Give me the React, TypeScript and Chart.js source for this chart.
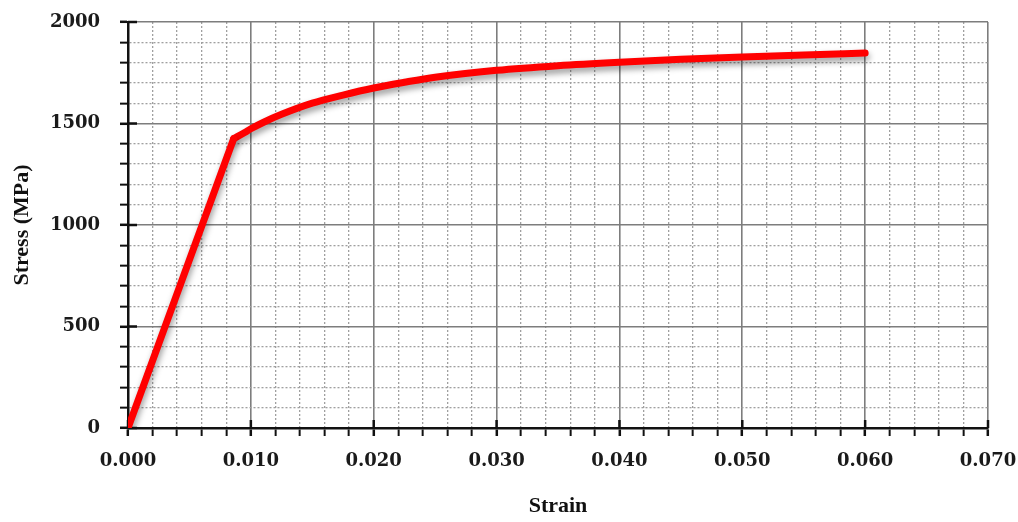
import React, { useEffect, useRef } from "react";
import { Chart, registerables } from "chart.js";

Chart.register(...registerables);

// Elastic (linear) part of the curve
const elasticStrain = [0, 0.0086];
const elasticStress = [0, 1425];

// Plastic (hardening) part of the curve
const plasticStrain = [0.0086, 0.0095, 0.010, 0.011, 0.0125, 0.015, 0.0175, 0.020, 0.0225, 0.025, 0.030, 0.035, 0.040, 0.045, 0.050, 0.055, 0.060];
const plasticStress = [1425, 1456, 1474, 1505, 1545, 1600, 1640, 1675, 1703, 1728, 1762, 1785, 1802, 1816, 1828, 1838, 1847];

// Tick labels
const xTickLabels = ["0.000", "0.010", "0.020", "0.030", "0.040", "0.050", "0.060", "0.070"];
const yTickLabels = ["0", "500", "1000", "1500", "2000"];
const xMinorStep = 0.002;
const yMinorStep = 100;

const xMajor = xTickLabels.map((s) => parseFloat(s));
const yMajor = yTickLabels.map((s) => parseFloat(s));

const majorIndex = (v: number, majors: number[]) => majors.findIndex((m) => Math.abs(m - v) < 1e-7);
const isMajor = (v: number, majors: number[]) => majorIndex(v, majors) >= 0;

const MAJOR_GRID = "#7d7d7d";
const MINOR_GRID = "#a0a0a0";
const AXIS = "#111111";

const tickFont = { family: "'DejaVu Serif', serif", weight: "bold" as const, size: 18 };
const titleFont = { family: "'Liberation Serif', serif", weight: "bold" as const, size: 22 };

const shadowPlugin = {
  id: "lineShadow",
  beforeDatasetDraw(chart: any) {
    const ctx = chart.ctx;
    ctx.save();
    ctx.shadowColor = "rgba(0,0,0,0.4)";
    ctx.shadowBlur = 6;
    ctx.shadowOffsetY = 4;
    ctx.shadowOffsetX = 1;
  },
  afterDatasetDraw(chart: any) {
    chart.ctx.restore();
  },
};

const majorTickPlugin = {
  id: "majorTickInside",
  beforeDatasetsDraw(chart: any) {
    const { ctx, chartArea, scales } = chart;
    ctx.save();
    ctx.strokeStyle = AXIS;
    ctx.lineWidth = 2.5;
    xMajor.forEach((v) => {
      const px = scales.x.getPixelForValue(v);
      ctx.beginPath();
      ctx.moveTo(px, chartArea.bottom);
      ctx.lineTo(px, chartArea.bottom - 8);
      ctx.stroke();
    });
    yMajor.forEach((v) => {
      const py = scales.y.getPixelForValue(v);
      ctx.beginPath();
      ctx.moveTo(chartArea.left, py);
      ctx.lineTo(chartArea.left + 9, py);
      ctx.stroke();
    });
    ctx.restore();
  },
};

export default function App() {
  const canvasRef = useRef<HTMLCanvasElement | null>(null);

  useEffect(() => {
    document.body.style.margin = "0";
    const canvas = canvasRef.current;
    if (!canvas) return;

    const elastic = elasticStrain.map((x, i) => ({ x, y: elasticStress[i] }));
    const plastic = plasticStrain.map((x, i) => ({ x, y: plasticStress[i] }));

    const chart = new Chart(canvas, {
      type: "line",
      data: {
        datasets: [
          {
            label: "Elastic",
            data: elastic,
            borderColor: "#ff0000",
            borderWidth: 7,
            pointRadius: 0,
            tension: 0,
            borderCapStyle: "round",
            borderJoinStyle: "round",
          },
          {
            label: "Plastic",
            data: plastic,
            borderColor: "#ff0000",
            borderWidth: 7,
            pointRadius: 0,
            cubicInterpolationMode: "monotone",
            borderCapStyle: "round",
            borderJoinStyle: "round",
          },
        ],
      },
      options: {
        animation: false,
        responsive: true,
        maintainAspectRatio: false,
        layout: { padding: { top: 22, right: 30, left: 0, bottom: 0 } },
        plugins: {
          legend: { display: false },
          tooltip: { enabled: false },
        },
        scales: {
          x: {
            type: "linear",
            min: 0,
            max: 0.07,
            afterFit: (scale: any) => {
              scale.height = 94;
              scale.paddingLeft = 0;
              scale.paddingRight = 0;
            },
            ticks: {
              stepSize: xMinorStep,
              autoSkip: false,
              maxRotation: 0,
              minRotation: 0,
              padding: 15,
              color: "#1a1a1a",
              font: tickFont,
              callback: (value: any) => {
                const i = majorIndex(Number(value), xMajor);
                return i >= 0 ? xTickLabels[i] : "";
              },
            },
            grid: {
              color: (ctx: any) => (isMajor(ctx.tick?.value ?? 0, xMajor) ? MAJOR_GRID : MINOR_GRID),
              lineWidth: (ctx: any) => (isMajor(ctx.tick?.value ?? 0, xMajor) ? 1.6 : 1.3),
              tickColor: AXIS,
              tickLength: 8,
              tickWidth: (ctx: any) => (isMajor(ctx.tick?.value ?? 0, xMajor) ? 2.5 : 2),
            },
            border: {
              color: AXIS,
              width: 2.5,
              dash: (ctx: any) => (isMajor(ctx.tick?.value ?? 0, xMajor) ? [] : [2, 2]),
            },
            title: {
              display: true,
              text: "Strain",
              color: "#111",
              font: titleFont,
              padding: { top: 0, bottom: 2 },
            },
          },
          y: {
            type: "linear",
            min: 0,
            max: 2000,
            afterFit: (scale: any) => {
              scale.width = 128;
              scale.paddingTop = 0;
              scale.paddingBottom = 0;
            },
            ticks: {
              stepSize: yMinorStep,
              autoSkip: false,
              padding: 20,
              color: "#1a1a1a",
              font: tickFont,
              callback: (value: any) => {
                const i = majorIndex(Number(value), yMajor);
                return i >= 0 ? yTickLabels[i] : "";
              },
            },
            grid: {
              color: (ctx: any) => (isMajor(ctx.tick?.value ?? 0, yMajor) ? MAJOR_GRID : MINOR_GRID),
              lineWidth: (ctx: any) => (isMajor(ctx.tick?.value ?? 0, yMajor) ? 1.6 : 1.3),
              tickColor: AXIS,
              tickLength: 8,
              tickWidth: (ctx: any) => (isMajor(ctx.tick?.value ?? 0, yMajor) ? 2.5 : 2),
            },
            border: {
              color: AXIS,
              width: 2.5,
              dash: (ctx: any) => (isMajor(ctx.tick?.value ?? 0, yMajor) ? [] : [2, 2]),
            },
            title: {
              display: true,
              text: "Stress (MPa)",
              color: "#111",
              font: titleFont,
              padding: { top: 9, bottom: 0 },
            },
          },
        },
      },
      plugins: [shadowPlugin, majorTickPlugin],
    } as any);

    return () => {
      chart.destroy();
    };
  }, []);

  return (
    <div style={{ width: 1018, height: 522, position: "relative", background: "#fff" }}>
      <canvas ref={canvasRef} />
    </div>
  );
}
